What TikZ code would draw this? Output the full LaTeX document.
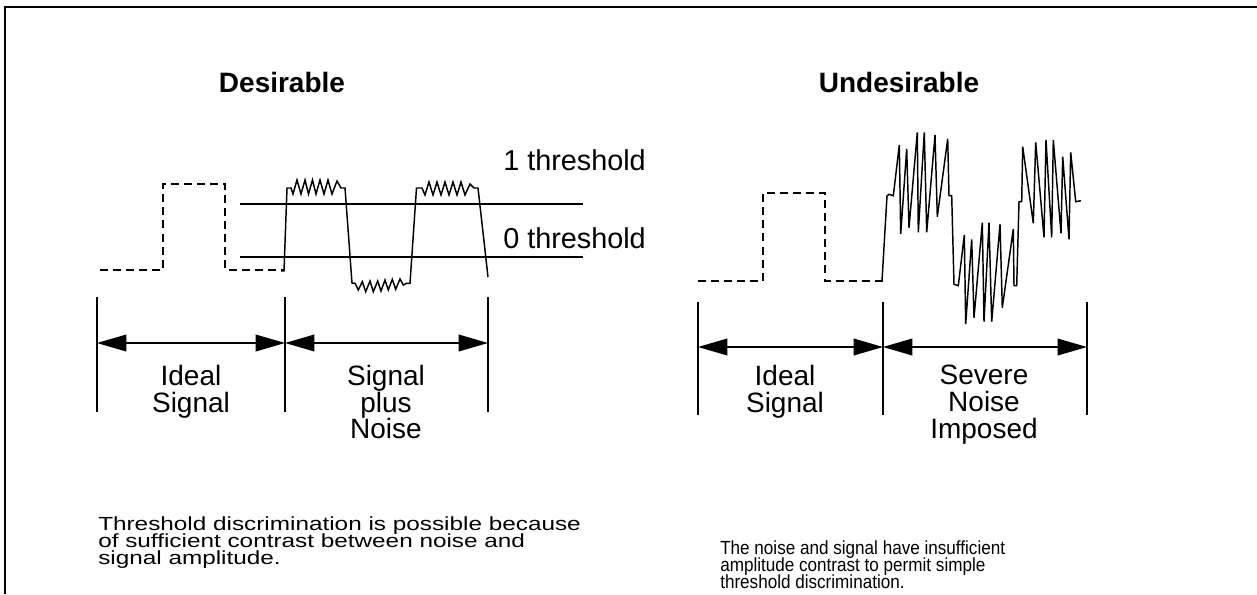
\documentclass[tikz,border=0pt]{standalone}
\usepackage{fontspec}
\setmainfont{Liberation Sans}
\usetikzlibrary{arrows.meta}
\begin{document}
\begin{tikzpicture}[x={(0.75pt,0pt)},y={(0pt,-0.75pt)},
  sig/.style={line width=1.1pt,line join=miter},
  dsig/.style={line width=1.1pt,dash pattern=on 6pt off 3.8pt},
  tick/.style={line width=1.1pt},
  dim/.style={line width=1.1pt,{Triangle[length=22pt,width=12.5pt]}-{Triangle[length=22pt,width=12.5pt]}},
  lbl/.style={inner sep=0pt,anchor=north,align=center,font=\fontsize{21}{20}\selectfont},
  ttl/.style={inner sep=0pt,anchor=base,font=\fontsize{21}{24}\bfseries},
  thr/.style={inner sep=0pt,anchor=base west,font=\fontsize{21.6}{24}\selectfont},
  note/.style={inner sep=0pt,anchor=north west}]
\useasboundingbox (0,0) rectangle (1257,594);
% frame
\draw[line width=1.6pt] (5,594) -- (5,7) -- (1257,7);
% titles
\node[ttl] (t1) at (282,92) {Desirable};
\node[ttl] (t2) at (899,92) {Undesirable};
% threshold labels
\node[thr] (l1) at (503,170) {1 threshold};
\node[thr] (l0) at (503,248) {0 threshold};
% threshold lines
\coordinate (h1a) at (240,204); \coordinate (h1b) at (583,204);
\coordinate (h0a) at (240,257); \coordinate (h0b) at (583,257);
\draw[sig] (h1a) -- (h1b);
\draw[sig] (h0a) -- (h0b);
% left ideal (dashed)
\draw[dsig] (100,270) -- (163,270) -- (163,184) -- (225,184) -- (225,270) -- (285,270);
% left signal plus noise
\draw[sig] (281,271) -- (284,271) -- (287,188) -- (291,188) -- (293,194) -- (297,180) -- (301,194) -- (305,180) -- (308.5,194) -- (312.5,180) -- (316,194) -- (320,180) -- (324,194) -- (328,180) -- (332,194) -- (337,181) -- (341,188) -- (345,188)
  -- (352,283) -- (355,283.3) -- (358.3,290) -- (362.3,281.7) -- (365.7,291.7) -- (370,281) -- (373.3,291.7) -- (377.7,281) -- (381,291) -- (385,280) -- (388.3,290) -- (392.3,279.3) -- (395.7,289.3) -- (400,279) -- (403.3,285) -- (406.7,283.3) -- (410,283.3)
  -- (416.5,188) -- (422,188) -- (425,195) -- (429,182) -- (433,195) -- (437,182) -- (441,195) -- (445,182) -- (449,195) -- (453,182) -- (457,195) -- (461,182) -- (465,195) -- (470,184) -- (474,188) -- (478,188) -- (488,277);
% left dimension
\coordinate (a1t) at (97,297); \coordinate (a1b) at (97,412);
\coordinate (a2t) at (285,297); \coordinate (a2b) at (285,412);
\coordinate (a3t) at (488,297); \coordinate (a3b) at (488,412);
\draw[tick] (a1t) -- (a1b);
\draw[tick] (a2t) -- (a2b);
\draw[tick] (a3t) -- (a3b);
\coordinate (d1) at (97,343); \coordinate (d2) at (285,343); \coordinate (d3) at (488,343);
\draw[dim] (d1) -- (d2);
\draw[dim] (d2) -- (d3);
\node[lbl] (il) at (191,365) {Ideal\\Signal};
\node[lbl] (sp) at (386,365) {Signal\\plus\\Noise};
% right ideal (dashed)
\draw[dsig] (698,281) -- (763,281) -- (763,193) -- (825,193) -- (825,281) -- (883,281);
% right severe noise
\draw[sig] (882,281) -- (887,196) -- (889,194.3) -- (893.3,195.7) -- (899.3,145) -- (900.7,234) -- (906.7,149) -- (909,227.7) -- (917.3,132.3) -- (918.3,232.3) -- (924.3,132.3) -- (926.7,232.3) -- (935,135) -- (937.3,216.7) -- (947.7,139) -- (949,195.7) -- (951.7,195.7)
  -- (954,284.3) -- (958.3,285.7) -- (964.3,235) -- (965.7,324) -- (971.7,239.3) -- (974,317.7) -- (982.3,222.7) -- (984,321.7) -- (989,222.7) -- (991.7,321.7) -- (1000,224.3) -- (1002.3,307.7) -- (1013.3,229) -- (1014,285.7) -- (1016.7,285.7)
  -- (1019,201.7) -- (1021.7,201.7) -- (1022.7,146.7) -- (1033.3,223.3) -- (1035.7,142.3) -- (1044,237.3) -- (1046,140) -- (1051.7,237.3) -- (1053.3,140) -- (1061,233.3) -- (1062.7,156.7) -- (1069,239.3) -- (1070.7,152.3) -- (1075.7,201.7) -- (1081,200.7);
% right dimension
\coordinate (b1t) at (698,302); \coordinate (b1b) at (698,415);
\coordinate (b2t) at (883,302); \coordinate (b2b) at (883,415);
\coordinate (b3t) at (1087,302); \coordinate (b3b) at (1087,415);
\draw[tick] (b1t) -- (b1b);
\draw[tick] (b2t) -- (b2b);
\draw[tick] (b3t) -- (b3b);
\coordinate (e1) at (698,347); \coordinate (e2) at (883,347); \coordinate (e3) at (1087,347);
\draw[dim] (e1) -- (e2);
\draw[dim] (e2) -- (e3);
\node[lbl] (ir) at (785,365) {Ideal\\Signal};
\node[lbl] (sn) at (984,365) {Severe\\Noise\\Imposed};
% notes
\node[note] (n1) at (98,516) {\scalebox{1.28}[1]{\vbox{\fontsize{14.25}{12.75}\selectfont\lineskiplimit=-\maxdimen
  \hbox{Threshold discrimination is possible because}\hbox{of sufficient contrast between noise and}\hbox{signal amplitude.}}}};
\node[note] (n2) at (720,540) {\scalebox{0.9}[1]{\vbox{\fontsize{14.25}{12.75}\selectfont\lineskiplimit=-\maxdimen
  \hbox{The noise and signal have insufficient}\hbox{amplitude contrast to permit simple}\hbox{threshold discrimination.}}}};
\end{tikzpicture}
\end{document}
